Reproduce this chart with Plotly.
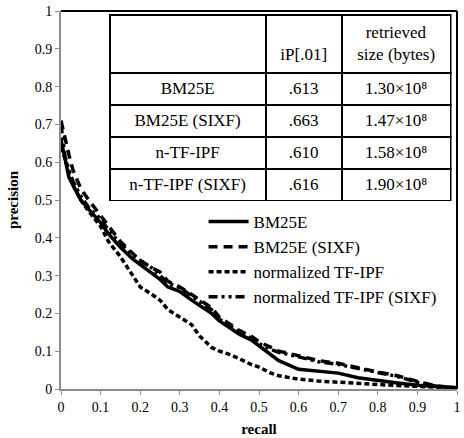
import plotly.graph_objects as go

recall = [0, 0.01, 0.02, 0.03, 0.05, 0.07, 0.1, 0.12, 0.15, 0.18, 0.2, 0.23, 0.25, 0.27, 0.3,
          0.33, 0.35, 0.38, 0.4, 0.43, 0.45, 0.48, 0.5, 0.53, 0.55, 0.6, 0.65, 0.7, 0.75, 0.8,
          0.85, 0.9, 0.95, 1.0]

bm25e = [0.66, 0.613, 0.56, 0.54, 0.50, 0.475, 0.44, 0.41, 0.375, 0.345, 0.33, 0.305, 0.29, 0.27,
         0.258, 0.235, 0.22, 0.20, 0.18, 0.16, 0.145, 0.13, 0.115, 0.09, 0.075, 0.052, 0.047,
         0.042, 0.03, 0.022, 0.016, 0.01, 0.006, 0.003]
bm25e_sixf = [0.71, 0.663, 0.62, 0.58, 0.53, 0.50, 0.46, 0.43, 0.39, 0.36, 0.34, 0.32, 0.31, 0.285,
              0.27, 0.25, 0.235, 0.215, 0.19, 0.17, 0.155, 0.14, 0.125, 0.11, 0.10, 0.088, 0.075,
              0.068, 0.056, 0.045, 0.035, 0.02, 0.008, 0.003]
ntfipf = [0.64, 0.61, 0.57, 0.54, 0.50, 0.47, 0.43, 0.39, 0.35, 0.30, 0.27, 0.25, 0.235, 0.21,
          0.19, 0.17, 0.14, 0.11, 0.10, 0.09, 0.08, 0.065, 0.058, 0.042, 0.035, 0.026, 0.021,
          0.018, 0.013, 0.011, 0.009, 0.007, 0.005, 0.003]
ntfipf_sixf = [0.70, 0.616, 0.58, 0.55, 0.51, 0.48, 0.45, 0.42, 0.385, 0.355, 0.34, 0.32, 0.30,
               0.28, 0.268, 0.248, 0.232, 0.21, 0.185, 0.165, 0.15, 0.135, 0.12, 0.105, 0.097,
               0.085, 0.072, 0.065, 0.054, 0.043, 0.033, 0.018, 0.007, 0.003]

series_names = ["BM25E", "BM25E (SIXF)", "normalized TF-IPF", "normalized TF-IPF (SIXF)"]

table_rows = ["BM25E", "BM25E (SIXF)", "n-TF-IPF", "n-TF-IPF (SIXF)"]
table_ip = [".613", ".663", ".610", ".616"]
table_size = ["1.30", "1.47", "1.58", "1.90"]
table_header = ["", "\u00a0<br>iP[.01]", "\u00a0\u00a0retrieved<br>size (bytes)"]

tick_vals = [0, 0.1, 0.2, 0.3, 0.4, 0.5, 0.6, 0.7, 0.8, 0.9, 1]
tick_text = ["0", "0.1", "0.2", "0.3", "0.4", "0.5", "0.6", "0.7", "0.8", "0.9", "1"]

FONT = "Liberation Serif"

fig = go.Figure()
styles = [("solid", 3.5), ("9px,6px", 3.5), ("5px,3px", 3.5), ("9px,4px,3px,4px,3px,4px", 3.5)]
for name, ys, (dash, w) in zip(series_names, [bm25e, bm25e_sixf, ntfipf, ntfipf_sixf], styles):
    fig.add_trace(go.Scatter(x=recall, y=ys, mode="lines", name=name,
                             line=dict(color="black", width=w, dash=dash)))

fig.add_trace(go.Table(
    domain=dict(x=[(110 - 61) / 400, (455 - 61) / 400], y=[(391 - 202) / 380, (391 - 15) / 380]),
    columnwidth=[158, 77, 110],
    header=dict(values=table_header, height=58, align="center",
                line=dict(color="black", width=2), fill=dict(color="white"),
                font=dict(family=FONT, size=17, color="black")),
    cells=dict(values=[table_rows, table_ip, [s + "\u00d710\u2078" for s in table_size]],
               height=32, align="center",
               line=dict(color="black", width=2), fill=dict(color="white"),
               font=dict(family=FONT, size=17, color="black")),
))

fig.update_layout(
    width=464, height=438,
    margin=dict(l=61, r=3, t=11, b=47),
    paper_bgcolor="white", plot_bgcolor="white",
    font=dict(family=FONT, size=13, color="black"),
    showlegend=True,
    legend=dict(x=(205 - 61) / 400, y=(391 - 205) / 380, xanchor="left", yanchor="top",
                bgcolor="rgba(0,0,0,0)", font=dict(family=FONT, size=17, color="black"),
                tracegroupgap=0, itemwidth=40),
    xaxis=dict(range=[0, 1], tickvals=tick_vals, ticktext=tick_text, showgrid=False,
               zeroline=False, showline=True, linecolor="#8c8c8c", linewidth=2,
               ticks="outside", ticklen=4, tickcolor="#8c8c8c", tickwidth=1,
               ticklabeloverflow="allow",
               tickfont=dict(family=FONT, size=14),
               title=dict(text="<b>recall</b>", font=dict(family=FONT, size=15), standoff=10)),
    yaxis=dict(range=[0, 1], tickvals=tick_vals, ticktext=tick_text, showgrid=False,
               zeroline=False, showline=True, linecolor="#8c8c8c", linewidth=2,
               ticks="outside", ticklen=4, tickcolor="#8c8c8c", tickwidth=1,
               ticklabeloverflow="allow",
               tickfont=dict(family=FONT, size=14),
               title=dict(text="<b>precision</b>", font=dict(family=FONT, size=15), standoff=12)),
    shapes=[
        dict(type="line", xref="paper", yref="paper", x0=0, x1=1, y0=1, y1=1,
             line=dict(color="black", width=2)),
        dict(type="line", xref="paper", yref="paper", x0=1, x1=1, y0=0, y1=1,
             line=dict(color="black", width=2)),
    ],
)

fig.write_html("out.html", config={"displayModeBar": False})
with open("out.html", encoding="utf-8") as f:
    html = f.read()
html = html.replace("<body>", '<body style="margin:0;padding:0;">', 1)
with open("out.html", "w", encoding="utf-8") as f:
    f.write(html)
